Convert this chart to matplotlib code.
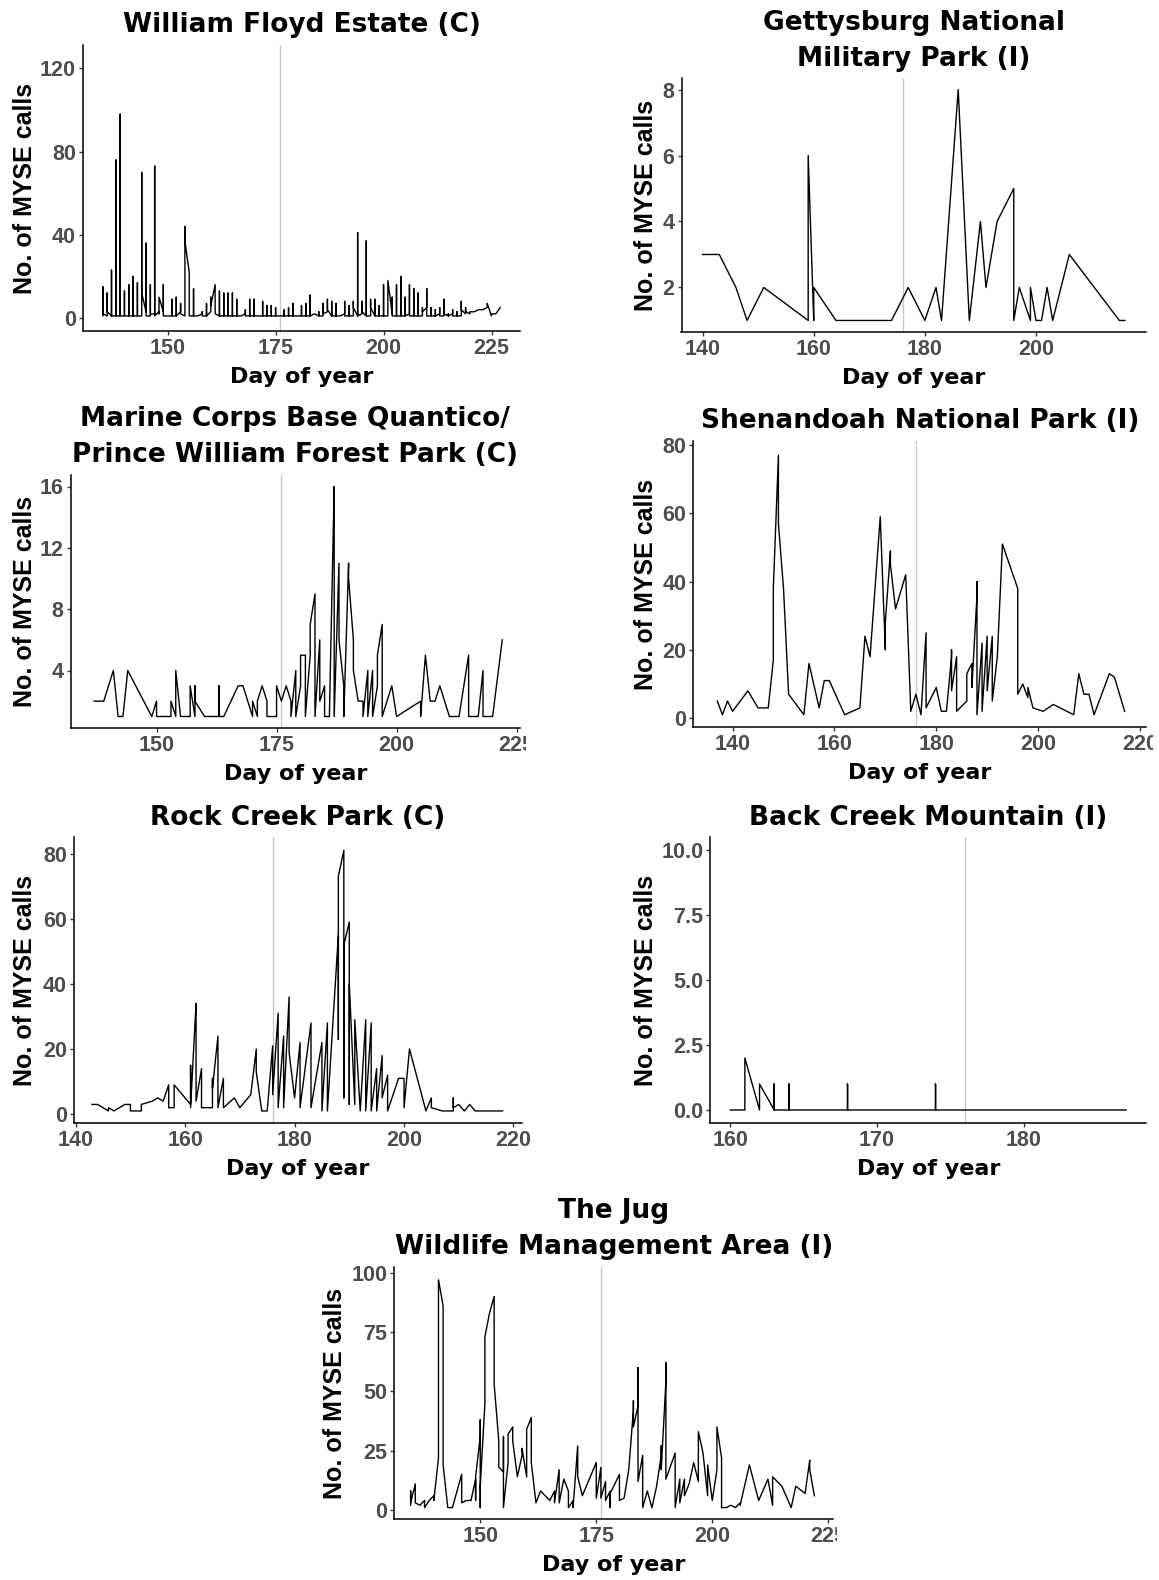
import numpy as np
import matplotlib.pyplot as plt
from matplotlib.transforms import Bbox

plt.rcParams["font.family"] = ["Liberation Sans", "DejaVu Sans"]

W, H = 1159, 1580

# ---- William Floyd Estate (C): one list of call counts per day
wfe_day = list(range(135, 228))
wfe_calls = [
    [1, 15, 2], [1, 12, 3], [1, 23, 1], [1, 76, 1], [1, 98, 1], [1, 13, 1],
    [1, 16, 1], [1, 20, 1], [1, 17, 1], [1, 70, 12], [3, 36, 1], [1, 16, 2],
    [2, 73, 1], [3, 8, 2, 10], [3, 16, 1], [1], [1, 9, 1], [1, 10, 1],
    [3, 7, 2], [1, 44, 37], [22, 5, 1], [1, 14, 1], [1], [2, 3, 1],
    [1, 7, 1], [3, 10, 6], [16, 8, 2], [1, 13, 1], [1, 12, 1], [1, 12, 1],
    [1, 12, 1], [1, 9, 1], [1], [2, 4, 1], [1, 9, 1], [1, 9, 1],
    [1], [1, 8, 1], [1, 6, 1], [1, 6, 1], [1, 5, 1], [1],
    [1, 4, 1], [1, 5, 1], [1, 7, 1], [1], [1, 6, 1], [1, 7, 1],
    [1, 11, 1], [2], [1, 3, 1], [1, 5, 7, 2], [3, 9, 4], [1, 8, 1],
    [1, 7, 1], [1], [2, 8, 1], [1, 6, 1], [1, 8, 5], [1, 41, 1],
    [2, 8, 3], [1, 37, 1], [1, 9, 5], [1, 9, 1], [1, 6, 1], [1, 16, 1],
    [1, 12, 8, 18], [2, 10, 1], [1, 16, 1], [1, 20, 1], [1, 10, 1], [2, 16, 1],
    [1, 14, 1], [1, 12, 1], [1, 5, 3], [5, 14, 1], [1, 5, 1], [1, 4, 1],
    [2, 5, 1], [1, 9, 2], [1, 2, 1], [2, 4, 1], [1, 3, 1], [1, 8, 4],
    [2, 5, 3], [2, 3], [3], [4], [4], [5, 7], [1, 2], [2], [5],
]

# ---- Gettysburg National Military Park (I)
gnmp_day = [140, 143, 146, 148, 151, 159, 160, 164, 174, 177, 180, 182, 183,
            186, 188, 190, 191, 193, 196, 197, 199, 200, 201, 202, 203, 206,
            215, 216]
gnmp_calls = [[3], [3], [2], [1], [2], [1, 6], [1, 2], [1], [1], [2], [1], [2],
              [1], [8], [1], [4], [2], [4], [5, 1], [2], [1, 2], [1], [1], [2],
              [1], [3], [1], [1]]

# ---- Marine Corps Base Quantico / Prince William Forest Park (C)
mcbq_day = [137, 139, 141, 142, 143, 144, 149, 150, 153, 154, 155, 157, 158,
            160, 163, 164, 167, 168, 170, 171, 172, 173, 174, 175, 176, 177,
            178, 179, 180, 181, 182, 183, 184, 185, 186, 187, 188, 189, 190,
            191, 192, 193, 194, 195, 196, 197, 199, 200, 205, 206, 207, 208,
            209, 211, 213, 215, 217, 218, 220, 222]
mcbq_calls = [[2], [2], [4], [1], [1], [4], [1], [2, 1], [1, 2], [1, 4], [1],
              [1, 3], [1, 3, 2], [1], [1, 3, 1], [1], [3], [3], [1, 2], [1, 2],
              [3], [2, 1], [1], [1, 3], [2], [3], [2, 1], [4, 1], [3, 5],
              [5, 1], [5, 7], [9, 1], [6, 2], [3, 1], [1], [16, 14, 1],
              [11, 6], [3, 1], [11, 10], [6, 4], [2], [2, 1], [4, 1], [4, 1],
              [3, 5], [7, 1], [3], [1], [2, 1], [5], [2], [2], [3], [1], [1],
              [5, 1], [1], [4, 1], [1], [6]]

# ---- Shenandoah National Park (I)
snp_day = [137, 138, 139, 140, 143, 145, 147, 148, 149, 150, 151, 154, 155,
           157, 158, 159, 162, 165, 166, 167, 169, 170, 171, 172, 174, 175,
           176, 177, 178, 180, 181, 182, 183, 184, 186, 187, 188, 189, 190,
           191, 192, 193, 196, 197, 198, 199, 201, 203, 207, 208, 209, 210,
           211, 214, 215, 217]
snp_calls = [[5], [1], [5], [2], [8], [3], [3], [17, 38], [77, 57], [38], [7],
             [1], [16], [3], [11], [11], [1], [3], [24], [18], [59], [20, 28],
             [49, 45], [32], [42], [2], [7], [1], [25, 3], [9], [2], [2],
             [18, 20, 8], [18, 2], [5, 13], [16, 9], [36, 40, 1], [22, 2],
             [24, 8], [24, 5], [18], [51], [38, 7], [10], [6, 9], [3], [2],
             [4], [1], [13], [7], [7], [1], [13], [12], [2]]

# ---- Rock Creek Park (C)
rcp_day = [143, 144, 146, 147, 148, 149, 150, 152, 154, 155, 156, 157, 158,
           161, 162, 163, 165, 166, 167, 169, 170, 172, 173, 174, 175, 176,
           177, 178, 179, 180, 181, 183, 185, 186, 188, 189, 190, 191, 192,
           193, 194, 195, 196, 197, 199, 200, 201, 204, 205, 207, 209, 210,
           211, 212, 213, 218]
rcp_calls = [[3], [3], [1, 2], [1], [2], [3], [3, 1], [1, 3], [4], [5], [4],
             [9, 2], [2, 9], [3, 15, 2], [34, 30, 22, 4], [14, 2], [2, 11, 8],
             [24, 2], [11, 2], [5], [2], [6], [20, 13], [1], [1], [21, 6],
             [31, 2], [24, 2], [36, 19], [5], [22, 2], [28, 2], [22, 1],
             [28, 1], [55, 23, 73], [81, 5, 52], [59, 3, 40], [3, 29], [1],
             [29, 1], [28, 1], [14, 1], [18, 5], [12, 1], [11], [11, 2], [20],
             [1], [5, 2], [1], [1, 5, 2], [3], [1], [3], [1], [1]]

# ---- Back Creek Mountain (I)
bcm_day = [160, 161, 162, 163, 164, 168, 174, 187]
bcm_calls = [[0], [0, 2], [0, 1], [0, 1, 0], [0, 1, 0], [0, 1, 0], [0, 1, 0], [0]]

# ---- The Jug Wildlife Management Area (I)
jug_day = [135, 136, 137, 138, 139, 140, 141, 142, 143, 144, 146, 147, 148,
           149, 150, 151, 152, 153, 154, 155, 156, 157, 158, 159, 160, 161,
           162, 163, 164, 165, 166, 167, 168, 169, 170, 171, 172, 175, 176,
           177, 178, 179, 180, 181, 182, 183, 184, 185, 186, 187, 188, 189,
           190, 192, 193, 194, 195, 196, 197, 198, 199, 200, 201, 202, 203,
           204, 205, 206, 208, 210, 212, 213, 215, 217, 218, 220, 221, 222]
jug_calls = [[2, 8, 3], [11, 3], [2], [4, 1], [4], [6, 4], [22, 50, 97],
             [86, 63, 19], [1], [1], [15, 3], [4], [4], [13, 4, 14],
             [31, 38, 1, 10], [45, 73], [83], [90, 80, 53], [29, 18],
             [16, 31, 4, 1], [20, 32], [35, 29], [14], [23, 26], [14, 34],
             [39, 20], [3], [8], [6], [4], [8, 3], [17, 3], [13], [8, 1],
             [4, 1], [27, 14], [6], [20, 5], [18, 5], [12, 4], [8, 1, 7], [11],
             [15, 4], [5], [17], [42, 46, 35], [44, 60, 12], [23, 1], [8], [1],
             [10], [23, 27, 17], [54, 62, 13], [24, 1], [13, 3], [13, 6], [11],
             [20], [12, 33], [24], [6, 19], [4], [17, 28, 35], [22, 1], [1],
             [2], [1], [3, 2], [19], [4], [13], [2, 14], [10], [1], [10], [7],
             [21, 17], [6]]


def flatten(days, calls):
    assert len(days) == len(calls)
    x = np.repeat(days, [len(c) for c in calls])
    y = np.concatenate([np.asarray(c, dtype=float) for c in calls])
    return x, y


fig = plt.figure(figsize=(W / 100, H / 100), dpi=100)


def panel(title, days, calls, box, xlim, ylim, xticks, yticks, ylab_x,
          clip_x=None, ylabels=None):
    l, t, r, b = box
    ax = fig.add_axes([l / W, 1 - b / H, (r - l) / W, (b - t) / H])
    x, y = flatten(days, calls)
    ax.axvline(176, color="#c6c6c6", lw=0.9, zorder=1)
    ax.plot(x, y, color="black", lw=1.0, zorder=2)
    ax.set_xlim(xlim)
    ax.set_ylim(ylim)
    ax.set_xticks(xticks)
    ax.set_yticks(yticks)
    if ylabels is not None:
        ax.set_yticklabels(ylabels)
    for s in ["top", "right"]:
        ax.spines[s].set_visible(False)
    for s in ["left", "bottom"]:
        ax.spines[s].set_linewidth(1.1)
        ax.spines[s].set_color("black")
    ax.tick_params(length=3, width=1, color="#333333", labelsize=15.5,
                   labelcolor="#4d4d4d", pad=2)
    for lab in ax.get_xticklabels() + ax.get_yticklabels():
        lab.set_fontweight("bold")
    # titles and x label come out wider in the figure, DejaVu fits them better
    ax.set_title(title, fontsize=19, fontweight="bold", family="DejaVu Sans",
                 pad=9, linespacing=1.5)
    ax.set_xlabel("Day of year", fontsize=16, fontweight="bold",
                  family="DejaVu Sans", labelpad=6)
    fig.text(ylab_x / W, 1 - (t + b) / 2 / H, "No. of MYSE calls", rotation=90,
             ha="center", va="center", fontsize=18, fontweight="bold")
    if clip_x is not None:
        for lab in ax.get_xticklabels():
            lab.set_clip_box(Bbox.from_extents(0, 0, clip_x, H))
            lab.set_clip_on(True)
    return ax


panel("William Floyd Estate (C)", wfe_day, wfe_calls,
      (83, 45, 520, 331), (130.4, 231.6), (-6.25, 131.25),
      [150, 175, 200, 225], [0, 40, 80, 120], 25)

panel("Gettysburg National\nMilitary Park (I)", gnmp_day, gnmp_calls,
      (681.5, 78, 1146, 332), (136.2, 219.8), (0.65, 8.35),
      [140, 160, 180, 200], [2, 4, 6, 8], 646)

panel("Marine Corps Base Quantico/\nPrince William Forest Park (C)",
      mcbq_day, mcbq_calls,
      (70.6, 475, 520, 728), (132.1, 225.7), (0.25, 16.75),
      [150, 175, 200, 225], [4, 8, 12, 16], 25, clip_x=526)

panel("Shenandoah National Park (I)", snp_day, snp_calls,
      (693.4, 441, 1146, 727), (132.3, 221.2), (-2.6, 81.2),
      [140, 160, 180, 200, 220], [0, 20, 40, 60, 80], 646, clip_x=1153)

panel("Rock Creek Park (C)", rcp_day, rcp_calls,
      (74, 837, 521.7, 1123), (139.7, 221.5), (-2.7, 85.1),
      [140, 160, 180, 200, 220], [0, 20, 40, 60, 80], 25)

panel("Back Creek Mountain (I)", bcm_day, bcm_calls,
      (710.4, 837, 1146, 1123), (158.65, 188.35), (-0.5, 10.5),
      [160, 170, 180], [0, 2.5, 5, 7.5, 10], 646,
      ylabels=["0.0", "2.5", "5.0", "7.5", "10.0"])

panel("The Jug\nWildlife Management Area (I)", jug_day, jug_calls,
      (394.4, 1267, 833.4, 1519), (131.5, 226.1), (-3.8, 102.4),
      [150, 175, 200, 225], [0, 25, 50, 75, 100], 335, clip_x=837)

fig.savefig("out.png", dpi=100)
